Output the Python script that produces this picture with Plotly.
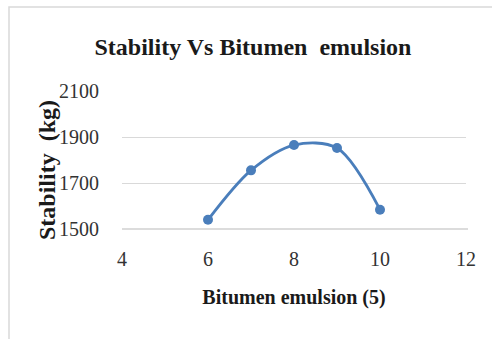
import plotly.graph_objects as go

x_vals = [6, 7, 8, 9, 10]
stability = [1540, 1755, 1865, 1852, 1584]
x_ticks = [4, 6, 8, 10, 12]
y_ticks = [1500, 1700, 1900, 2100]

W, H = 492, 339
L, R, T, B = 122, 26, 91, 110
pw, ph = W - L - R, H - T - B

def px(xp):
    return (xp - L) / pw

def py(yp):
    return (H - B - yp) / ph

serif = "Liberation Serif, Times New Roman, serif"

fig = go.Figure()
fig.add_trace(go.Scatter(
    x=x_vals, y=stability, mode="lines+markers",
    line=dict(color="#4A7EBB", width=2.8, shape="spline", smoothing=0.9),
    marker=dict(color="#4A7EBB", size=10),
    showlegend=False, cliponaxis=False,
))

fig.update_layout(
    width=W, height=H,
    margin=dict(l=L, r=R, t=T, b=B),
    paper_bgcolor="white", plot_bgcolor="white",
    title=dict(text="<b>Stability Vs Bitumen  emulsion</b>",
               font=dict(family=serif, size=24, color="#1a1a1a"),
               x=(253) / W, xanchor="center", y=1 - 47 / H, yanchor="middle"),
    xaxis=dict(range=[4, 12], tickvals=x_ticks, showgrid=False, zeroline=False,
               showline=False, ticks="outside", ticklen=12, tickcolor="rgba(0,0,0,0)",
               tickfont=dict(family=serif, size=20, color="#333333"),
               title=dict(text="<b>Bitumen emulsion (5)</b>", font=dict(family=serif, size=20, color="#1a1a1a"),
                          standoff=20)),
    yaxis=dict(range=[1500, 2100], tickvals=y_ticks, showgrid=True, gridcolor="#d9d9d9", gridwidth=1,
               zeroline=False, showline=False, ticks="outside", ticklen=18, tickcolor="rgba(0,0,0,0)",
               tickfont=dict(family=serif, size=20, color="#333333")),
    annotations=[
        dict(text="<b>Stability  (kg)</b>", xref="paper", yref="paper", x=px(47), y=py(170),
             xanchor="center", yanchor="middle", textangle=-90, showarrow=False,
             font=dict(family=serif, size=24, color="#1a1a1a")),
    ],
    shapes=[
        dict(type="line", xref="paper", yref="paper", x0=0, x1=px(468), y0=0, y1=0,
             line=dict(color="#d0d0d0", width=1.5)),
        dict(type="rect", xref="paper", yref="paper", x0=px(9), x1=px(520), y0=py(7), y1=py(360),
             line=dict(color="#d9d9d9", width=1.5), layer="below"),
    ],
)

fig.write_html("out.html")
